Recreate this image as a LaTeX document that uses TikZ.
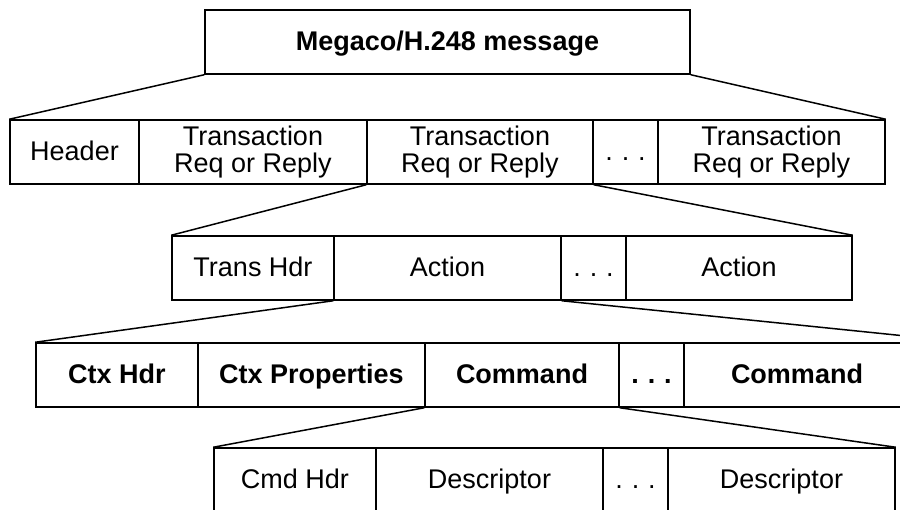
\documentclass[tikz,border=0pt]{standalone}
\usepackage{fontspec}
\setmainfont{Liberation Sans}
\begin{document}
\begin{tikzpicture}[x=1pt,y=-1pt,
  cell/.style={draw=black, line width=1.5pt, minimum height=64pt, inner sep=0pt,
    align=center, font=\fontsize{27}{27.5}\selectfont},
  one/.style={text height=22pt, text depth=6pt},
  bcell/.style={cell, one, font=\fontsize{27}{27.5}\selectfont\bfseries},
  link/.style={draw=black, line width=1.5pt}]
\useasboundingbox[fill=white] (0,0) rectangle (900,509);
\clip (0,0) rectangle (900,509);
% top
\node[bcell, minimum width=485pt] (top) at (447.5,42) {Megaco/H.248 message};
% row 1
\node[cell, one, minimum width=129pt] (hdr) at (74.5,152) {Header};
\node[cell, minimum width=228pt] (ta) at (253,152) {Transaction\\Req or Reply};
\node[cell, minimum width=226pt] (tb) at (480,152) {Transaction\\Req or Reply};
\node[cell, one, minimum width=65pt] (td) at (625.5,152) {.\,\,.\,\,.};
\node[cell, minimum width=227pt] (tc) at (771.5,152) {Transaction\\Req or Reply};
% row 2
\node[cell, one, minimum width=162pt] (th) at (253,268) {Trans Hdr};
\node[cell, one, minimum width=227pt] (a1) at (447.5,268) {Action};
\node[cell, one, minimum width=65pt] (ad) at (593.5,268) {.\,\,.\,\,.};
\node[cell, one, minimum width=226pt] (a2) at (739,268) {Action};
% row 3
\node[bcell, minimum width=162pt] (ch) at (117,375) {Ctx Hdr};
\node[bcell, minimum width=227pt] (cp) at (311.5,375) {Ctx Properties};
\node[bcell, minimum width=194pt] (c1) at (522,375) {Command};
\node[bcell, minimum width=65pt] (cd) at (651.5,375) {.\,\,.\,\,.};
\node[bcell, minimum width=282pt] (c2) at (825,375) {Command\hspace*{56pt}};
% row 4
\node[cell, one, minimum width=162pt] (dh) at (295,480) {Cmd Hdr};
\node[cell, one, minimum width=227pt] (d1) at (489.5,480) {Descriptor};
\node[cell, one, minimum width=65pt] (dd) at (635.5,480) {.\,\,.\,\,.};
\node[cell, one, minimum width=227pt] (d2) at (781.5,480) {Descriptor};
% connectors
\draw[link] (top.south west) -- (hdr.north west);
\draw[link] (top.south east) -- (tc.north east);
\draw[link] (tb.south west) -- (th.north west);
\draw[link] (tb.south east) -- (a2.north east);
\draw[link] (a1.south west) -- (ch.north west);
\draw[link] (a1.south east) -- (c2.north east);
\draw[link] (c1.south west) -- (dh.north west);
\draw[link] (c1.south east) -- (d2.north east);
\end{tikzpicture}
\end{document}
